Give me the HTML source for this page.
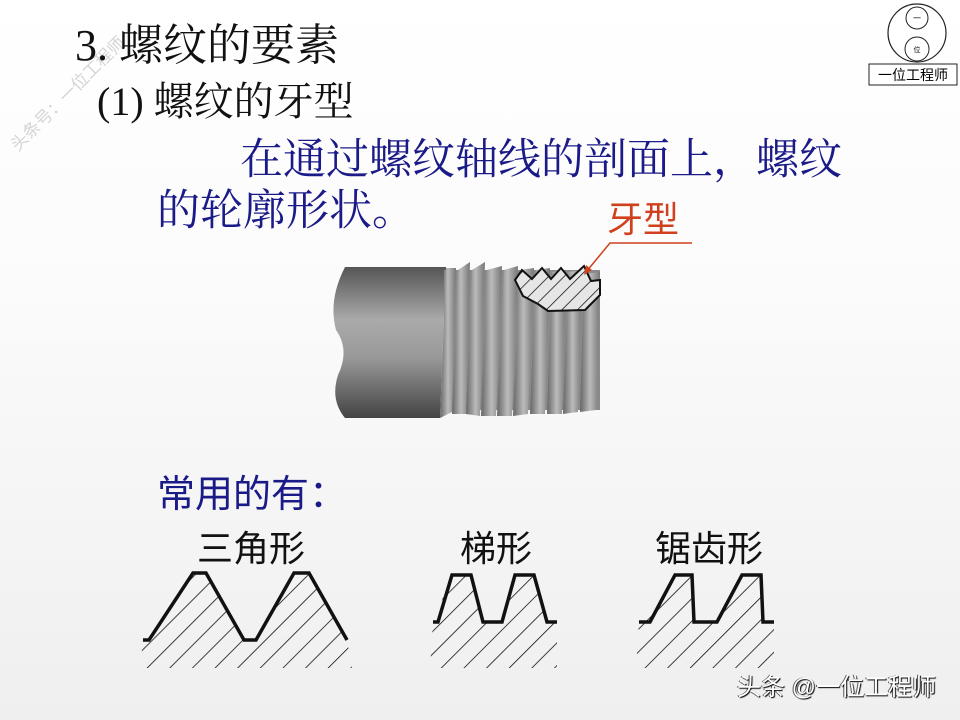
<!DOCTYPE html>
<html><head><meta charset="utf-8"><style>
body{margin:0}
#p{position:relative;width:960px;height:720px;overflow:hidden;background:linear-gradient(#ffffff 0%,#fbfbfb 40%,#efefef 100%);font-family:"Liberation Serif","Noto Serif CJK SC",serif}
.t{position:absolute;white-space:nowrap;line-height:1}
</style></head><body><div id="p">
<div class="t" style="left:8px;font-size:17px;color:#d4d4d4;transform:rotate(-45deg);transform-origin:0 0;top:142px;font-family:'Liberation Sans','Noto Sans CJK SC',sans-serif">头条号：一位工程师</div>
<div class="t" style="left:75px;top:24px;font-size:44px;color:#111">3.&nbsp;螺纹的要素</div>
<div class="t" style="left:97px;top:82px;font-size:40px;color:#111">(1)&nbsp;螺纹的牙型</div>
<div class="t" style="left:240px;top:139px;font-size:43px;color:#1a1a88">在通过螺纹轴线的剖面上，螺纹</div>
<div class="t" style="left:157px;top:190px;font-size:43px;color:#1a1a88">的轮廓形状。</div>
<div class="t" style="left:607px;top:202px;font-size:36px;color:#d0401e;font-family:'Liberation Sans','Noto Sans CJK SC',sans-serif">牙型</div>
<div class="t" style="left:157px;top:476px;font-size:38px;color:#1a1a88;font-family:'Liberation Sans','Noto Sans CJK SC',sans-serif">常用的有：</div>
<div class="t" style="left:197px;top:531px;font-size:36px;color:#111;font-family:'Liberation Sans','Noto Sans CJK SC',sans-serif">三角形</div>
<div class="t" style="left:460px;top:531px;font-size:36px;color:#111;font-family:'Liberation Sans','Noto Sans CJK SC',sans-serif">梯形</div>
<div class="t" style="left:655px;top:531px;font-size:36px;color:#111;font-family:'Liberation Sans','Noto Sans CJK SC',sans-serif">锯齿形</div>
<div class="t" style="left:737px;top:676px;font-size:24px;color:#fff;text-shadow:1px 1px 1px #000,-1px 0 0 #555;font-family:'Liberation Sans','Noto Sans CJK SC',sans-serif">头条 @一位工程师</div>
<svg width="960" height="720" style="position:absolute;left:0;top:0">
<defs>
<linearGradient id="cyl" x1="0" y1="0" x2="0" y2="1"><stop offset="0" stop-color="#555"/><stop offset=".35" stop-color="#aaa"/><stop offset=".6" stop-color="#999"/><stop offset="1" stop-color="#444"/></linearGradient>
<linearGradient id="st" x1="0" y1="0" x2="1" y2="0"><stop offset="0" stop-color="#666"/><stop offset=".5" stop-color="#bbb"/><stop offset="1" stop-color="#777"/></linearGradient>
<pattern id="h" width="16" height="16" patternUnits="userSpaceOnUse" patternTransform="rotate(45)"><line x1="0" y1="0" x2="0" y2="16" stroke="#111" stroke-width="1.6"/></pattern>
<pattern id="h2" width="11" height="11" patternUnits="userSpaceOnUse" patternTransform="rotate(45)"><rect width="11" height="11" fill="#e6e6e6"/><line x1="0" y1="0" x2="0" y2="11" stroke="#111" stroke-width="1.5"/></pattern>
</defs>
<path d="M345 267 L446 267 L440 418 L345 418 Q330 400 338 375 Q350 350 336 330 Q328 300 345 267Z" fill="url(#cyl)"/>
<rect x="444" y="270" width="156" height="140" fill="#8a8a8a"/>
<g>
<polygon points="446,268 456,268 452,412 440,418" fill="url(#st)"/>
<polygon points="458,270 470,262 466,414 452,414" fill="url(#st)"/>
<polygon points="472,270 485,262 480,416 466,414" fill="url(#st)"/>
<polygon points="487,270 502,266 496,416 481,416" fill="url(#st)"/>
<polygon points="504,270 518,266 512,416 497,416" fill="url(#st)"/>
<polygon points="520,270 534,268 528,414 513,416" fill="url(#st)"/>
<polygon points="536,270 550,268 545,414 530,414" fill="url(#st)"/>
<polygon points="552,272 566,270 562,414 547,414" fill="url(#st)"/>
<polygon points="568,272 582,270 578,412 563,414" fill="url(#st)"/>
<polygon points="584,274 600,272 596,410 580,412" fill="url(#st)"/>
</g>
<polygon points="515,280 522,270 532,279 542,268 551,279 561,268 570,279 584,266 591,281 600,280 600,295 590,305 585,310 548,311 538,304 523,296" fill="url(#h2)" stroke="#111" stroke-width="2"/>
<polyline points="692,243 610,243 586,272" fill="none" stroke="#d0401e" stroke-width="1.5"/>
<polygon points="584,275 586,265 592,270" fill="#d0401e"/>
<polygon points="143,640 193,573 206,573 244,640 256,640 294,573 309,573 347,640 352,668 140,668" fill="url(#h)"/>
<polyline points="143,640 149,640 193,573 206,573 244,640 256,640 294,573 309,573 347,640" fill="none" stroke="#111" stroke-width="3.5"/>
<polygon points="433,622 452,575 471,575 483,622 502,622 515,575 534,575 547,622 557,622 557,668 430,668" fill="url(#h)"/>
<polyline points="433,622 438,622 452,575 471,575 483,622 502,622 515,575 534,575 547,622 557,622" fill="none" stroke="#111" stroke-width="3.5"/>
<polygon points="639,622 675,575 692,575 694,622 717,622 742,575 761,575 763,622 774,622 774,668 636,668" fill="url(#h)"/>
<polyline points="639,622 650,622 675,575 692,575 694,622 717,622 742,575 761,575 763,622 774,622" fill="none" stroke="#111" stroke-width="3.5"/>
<circle cx="917" cy="33" r="29" fill="#fff" stroke="#222" stroke-width="1.2"/>
<circle cx="917" cy="18" r="11" fill="#fff" stroke="#222"/>
<circle cx="917" cy="49" r="12" fill="#fff" stroke="#222"/>
<text x="917" y="21" font-size="8" text-anchor="middle" font-family="Noto Sans CJK SC">一</text>
<text x="917" y="52" font-size="7" text-anchor="middle" font-family="Noto Sans CJK SC">位</text>
<rect x="869" y="64" width="88" height="21" fill="#fff" stroke="#222"/>
<text x="913" y="80" font-size="14" text-anchor="middle" font-family="Noto Sans CJK SC">一位工程师</text>
</svg>
</div></body></html>
